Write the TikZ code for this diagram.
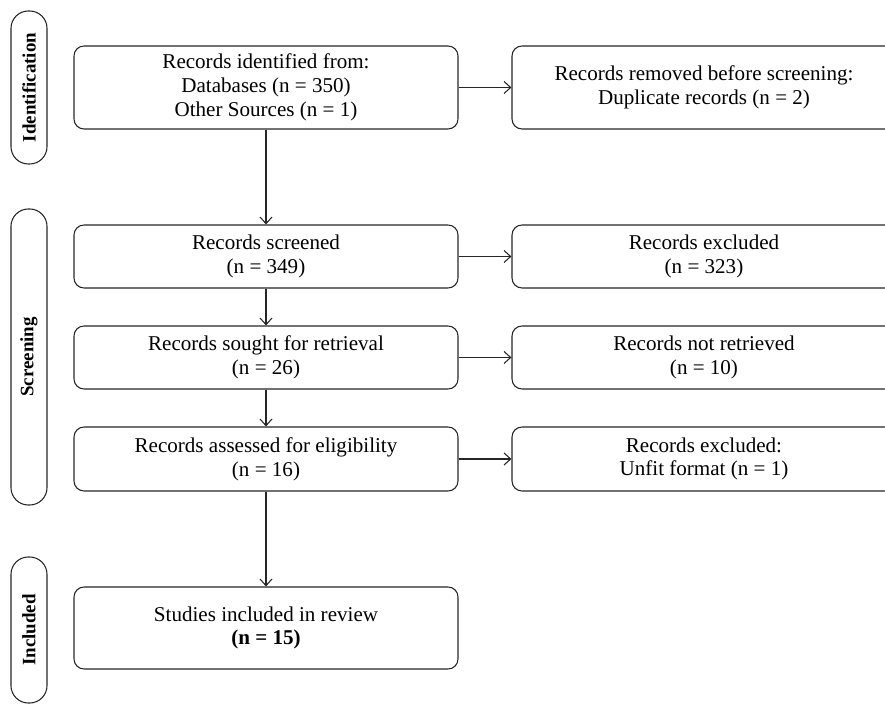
\documentclass[tikz,border=0pt]{standalone}
\usepackage{fontspec}
\setmainfont{Liberation Serif}
\usetikzlibrary{arrows.meta}
\begin{document}
\begin{tikzpicture}[x=0.75pt,y=-0.75pt,
  box/.style={draw=black!85, line width=0.8pt, rounded corners=7.5pt, minimum width=288pt, align=center, inner sep=0pt, font=\fontsize{15.8}{17.8}\selectfont},
  pill/.style={draw=black!85, line width=0.8pt, rounded corners=13pt, rotate=90, minimum height=27pt, inner sep=0pt, font=\fontsize{14.2}{16}\selectfont\bfseries},
  arr/.style={draw=black!85, line width=0.8pt, -{Straight Barb[length=5pt,width=9pt]}}]
\useasboundingbox (0,0) rectangle (885,705);
% stage labels
\node[pill, minimum width=114.75pt] (pid) at (29,87.5) {Identification};
\node[pill, minimum width=222pt] (psc) at (29,357) {Screening};
\node[pill, minimum width=109.5pt] (pin) at (29,630) {Included};
% left column
\node[box, minimum height=62.25pt] (b1) at (266,87.5) {Records identified from:\\Databases (n = 350)\\Other Sources (n = 1)};
\node[box, minimum height=47.25pt] (b2) at (266,256.5) {Records screened\\(n = 349)};
\node[box, minimum height=47.25pt] (b3) at (266,357.5) {Records sought for retrieval\\(n = 26)};
\node[box, minimum height=48pt] (b4) at (266,459) {Records assessed for eligibility\\(n = 16)};
\node[box, minimum height=61.5pt] (b5) at (266,628) {Studies included in review\\\textbf{(n = 15)}};
% right column
\node[box, minimum height=62.25pt] (r1) at (704,87.5) {Records removed before screening:\\Duplicate records (n = 2)};
\node[box, minimum height=47.25pt] (r2) at (704,256.5) {Records excluded\\(n = 323)};
\node[box, minimum height=47.25pt] (r3) at (704,357.5) {Records not retrieved\\(n = 10)};
\node[box, minimum height=48pt] (r4) at (704,459) {Records excluded:\\Unfit format (n = 1)};
% connectors
\draw[arr] (b1) -- (b2);
\draw[arr] (b2) -- (b3);
\draw[arr] (b3) -- (b4);
\draw[arr] (b4) -- (b5);
\draw[arr] (b1) -- (r1);
\draw[arr] (b2) -- (r2);
\draw[arr] (b3) -- (r3);
\draw[arr] (b4) -- (r4);
\end{tikzpicture}
\end{document}
